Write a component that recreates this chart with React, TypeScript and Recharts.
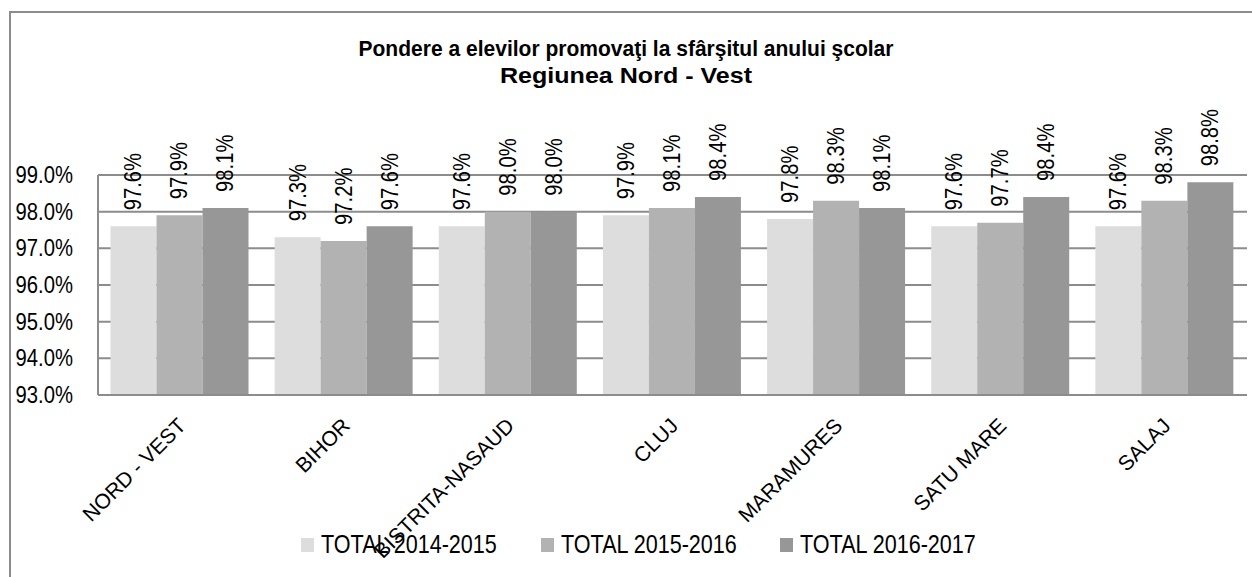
import React from "react";
import { BarChart, Bar, XAxis, YAxis, CartesianGrid, LabelList } from "recharts";

const categories = ["NORD - VEST", "BIHOR", "BISTRITA-NASAUD", "CLUJ", "MARAMURES", "SATU MARE", "SALAJ"];
const total2014 = [97.6, 97.3, 97.6, 97.9, 97.8, 97.6, 97.6];
const total2015 = [97.9, 97.2, 98.0, 98.1, 98.3, 97.7, 98.3];
const total2016 = [98.1, 97.6, 98.0, 98.4, 98.1, 98.4, 98.8];
const seriesNames = ["TOTAL 2014-2015", "TOTAL 2015-2016", "TOTAL 2016-2017"];
const seriesColors = ["#dddddd", "#b2b2b2", "#979797"];
const yTicks = [93, 94, 95, 96, 97, 98, 99];

const FONT = "'Liberation Sans', Arial, sans-serif";
const GRID = "#8c8c8c";

const data = categories.map((name, i) => ({
  name,
  s0: total2014[i],
  s1: total2015[i],
  s2: total2016[i],
}));

function YTick({ x, y, payload }: any) {
  return (
    <text
      transform={`translate(${x - 25}, ${y}) scale(0.88,1)`}
      textAnchor="end"
      dominantBaseline="central"
      fontSize={23}
      fill="#000"
      fontFamily={FONT}
    >
      {payload.value.toFixed(1)}%
    </text>
  );
}

function XTick({ x, y, payload }: any) {
  return (
    <text
      transform={`translate(${x + 7}, ${y + 32}) rotate(-45)`}
      textAnchor="end"
      fontSize={21}
      fill="#000"
      fontFamily={FONT}
    >
      {payload.value}
    </text>
  );
}

function BarLabel({ x, y, width, value }: any) {
  const cx = Number(x) + Number(width) / 2;
  const cy = Number(y) - 16;
  return (
    <text
      transform={`translate(${cx}, ${cy}) rotate(-90) scale(0.88,1)`}
      dominantBaseline="central"
      fontSize={23}
      fill="#000"
      fontFamily={FONT}
    >
      {Number(value).toFixed(1)}%
    </text>
  );
}

// legend item x positions (square left edge)
const legendX = [301, 541, 780];

export default function App() {
  return (
    <div
      style={{
        position: "absolute",
        left: 0,
        top: 0,
        width: 1252,
        height: 577,
        overflow: "hidden",
        background: "#fff",
      }}
    >
      <div
        style={{
          position: "absolute",
          left: 9,
          top: 11,
          width: 1300,
          height: 700,
          border: `2px solid ${GRID}`,
        }}
      />
      <div style={{ position: "absolute", left: 0, top: 0 }}>
        <BarChart
          width={1252}
          height={577}
          data={data}
          margin={{ top: 175, right: 5, bottom: 122, left: 10 }}
          barCategoryGap={12.5}
          barGap={0}
        >
          <CartesianGrid vertical={false} stroke={GRID} strokeWidth={2} />
          <XAxis
            dataKey="name"
            height={60}
            interval={0}
            tickLine={false}
            tickSize={0}
            tickMargin={0}
            axisLine={{ stroke: GRID, strokeWidth: 2 }}
            tick={<XTick />}
          />
          <YAxis
            width={88}
            domain={[93, 99]}
            ticks={yTicks}
            tickLine={false}
            tickSize={0}
            tickMargin={0}
            axisLine={{ stroke: GRID, strokeWidth: 2 }}
            tick={<YTick />}
          />
          {["s0", "s1", "s2"].map((k, i) => (
            <Bar key={k} dataKey={k} name={seriesNames[i]} fill={seriesColors[i]} isAnimationActive={false}>
              <LabelList dataKey={k} content={<BarLabel />} />
            </Bar>
          ))}
        </BarChart>
      </div>
      <svg
        width={1252}
        height={577}
        style={{ position: "absolute", left: 0, top: 0, pointerEvents: "none" }}
      >
        <text
          x={626}
          y={56}
          textAnchor="middle"
          fontSize={22}
          fontWeight="bold"
          fontFamily={FONT}
          textLength={535}
          lengthAdjust="spacingAndGlyphs"
        >
          Pondere a elevilor promovaţi la sfârşitul anului şcolar
        </text>
        <text
          x={626}
          y={83}
          textAnchor="middle"
          fontSize={22}
          fontWeight="bold"
          fontFamily={FONT}
          textLength={252}
          lengthAdjust="spacingAndGlyphs"
        >
          Regiunea Nord - Vest
        </text>
        {seriesNames.map((n, i) => (
          <g key={n}>
            <rect x={legendX[i]} y={538} width={13} height={14} fill={seriesColors[i]} />
            <text
              transform={`translate(${legendX[i] + 20}, 553) scale(0.83,1)`}
              fontSize={26}
              fontFamily={FONT}
            >
              {n}
            </text>
          </g>
        ))}
      </svg>
    </div>
  );
}
